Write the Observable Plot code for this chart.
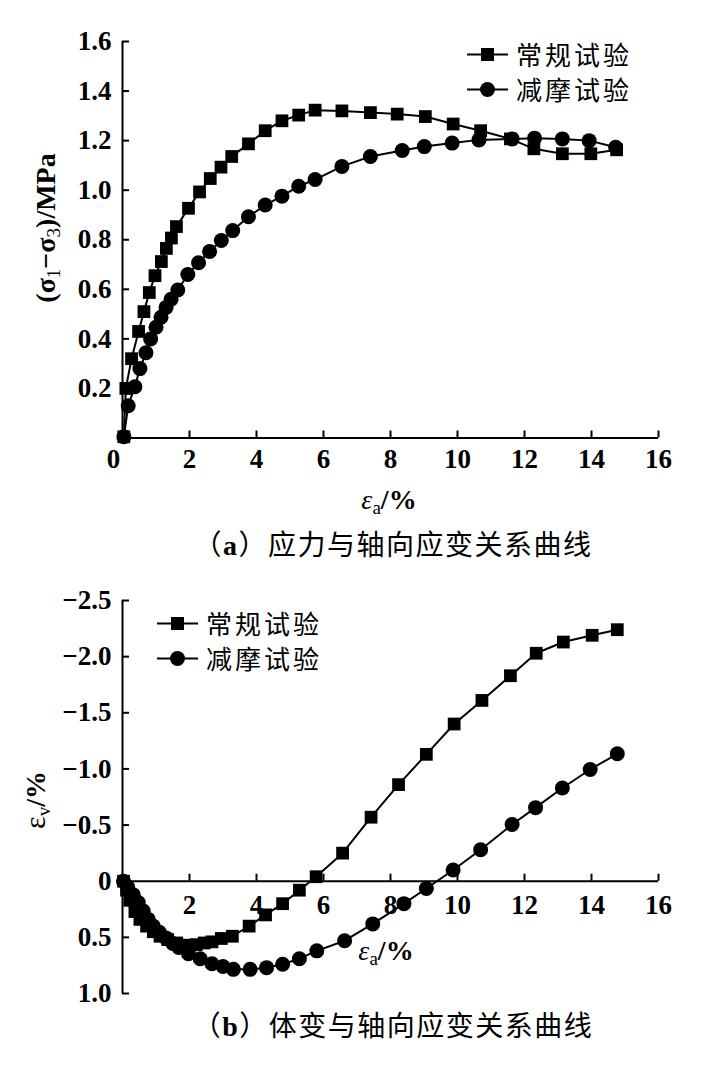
<!DOCTYPE html>
<html>
<head>
<meta charset="utf-8">
<script src="https://cdn.jsdelivr.net/npm/d3@7"></script>
<script src="https://cdn.jsdelivr.net/npm/@observablehq/plot@0.6"></script>
<style>
  body { margin: 0; background: #fff; }
  #wrap { position: relative; width: 721px; height: 1066px; overflow: hidden; background: #fff; color: #000;
          font-family: "Liberation Serif", serif; }
  .abs { position: absolute; white-space: nowrap; }
  .lab { font-family: "Liberation Serif", serif; font-weight: bold; font-size: 28px; line-height: 1; }
  .lab sub { font-size: 19px; vertical-align: -5px; font-weight: normal; }
  .cap { font-family: "Noto Sans CJK SC", sans-serif; font-size: 28px; line-height: 1; letter-spacing: 1.5px; }
  .cap b { font-family: "Liberation Serif", serif; font-weight: bold; }
  .leg { font-family: "Noto Sans CJK SC", sans-serif; font-size: 26px; line-height: 1; letter-spacing: 3px; display: flex; align-items: center; }
  .leg svg { margin-right: 8px; }
</style>
</head>
<body>
<div id="wrap">
  <div id="chartA" class="abs" style="left:0;top:0"></div>
  <div id="chartB" class="abs" style="left:0;top:560px"></div>
</div>
<script>
// ---------- data ----------
const seriesNames = ["常规试验", "减摩试验"];
const xTicks = [0, 2, 4, 6, 8, 10, 12, 14, 16];
const yTicksA = [0.2, 0.4, 0.6, 0.8, 1.0, 1.2, 1.4, 1.6];
const yTicksB = [-2.5, -2.0, -1.5, -1.0, -0.5, 0, 0.5, 1.0];
const yLabelsB = ["−2.5", "−2.0", "−1.5", "−1.0", "−0.5", "0", "0.5", "1.0"];

// (a) deviator stress vs axial strain
const epsA_conv = [0.04,0.1,0.27,0.48,0.64,0.8,0.97,1.16,1.31,1.46,1.61,1.97,2.3,2.62,2.94,3.26,3.76,4.26,4.76,5.26,5.75,6.55,7.4,8.2,9.04,9.87,10.69,11.58,12.28,13.13,13.98,14.75];
const q_conv    = [0.005,0.2,0.32,0.43,0.51,0.587,0.655,0.712,0.765,0.807,0.853,0.927,0.993,1.047,1.093,1.136,1.187,1.24,1.28,1.303,1.323,1.32,1.313,1.307,1.297,1.267,1.24,1.207,1.167,1.147,1.147,1.163];
const epsA_fric = [0.04,0.17,0.37,0.52,0.7,0.84,1.0,1.15,1.3,1.45,1.65,1.95,2.27,2.6,2.95,3.29,3.76,4.26,4.76,5.26,5.75,6.55,7.4,8.35,9.01,9.84,10.64,11.63,12.3,13.13,13.93,14.72];
const q_fric    = [0.005,0.13,0.207,0.28,0.344,0.4,0.447,0.487,0.527,0.56,0.597,0.66,0.707,0.753,0.797,0.837,0.893,0.94,0.976,1.016,1.043,1.096,1.136,1.16,1.176,1.19,1.203,1.207,1.21,1.207,1.2,1.173];

// (b) volumetric strain vs axial strain
const epsB_conv = [0.03,0.12,0.22,0.37,0.52,0.72,0.92,1.12,1.35,1.62,1.92,2.2,2.44,2.67,2.95,3.28,3.78,4.27,4.78,5.28,5.78,6.57,7.42,8.24,9.07,9.9,10.73,11.58,12.35,13.16,14.02,14.77];
const ev_conv   = [0,0.08,0.17,0.27,0.34,0.40,0.45,0.49,0.52,0.55,0.57,0.565,0.55,0.54,0.51,0.49,0.40,0.30,0.20,0.08,-0.04,-0.25,-0.57,-0.86,-1.13,-1.40,-1.61,-1.83,-2.03,-2.13,-2.19,-2.24];
const epsB_fric = [0.03,0.15,0.32,0.47,0.62,0.77,0.92,1.1,1.3,1.5,1.68,1.97,2.32,2.67,3.0,3.31,3.81,4.3,4.78,5.28,5.8,6.63,7.47,8.4,9.07,9.87,10.69,11.63,12.33,13.13,13.96,14.77];
const ev_fric   = [0,0.05,0.12,0.19,0.265,0.34,0.40,0.455,0.505,0.555,0.59,0.645,0.69,0.735,0.76,0.785,0.785,0.77,0.74,0.69,0.62,0.53,0.38,0.2,0.065,-0.10,-0.28,-0.505,-0.655,-0.83,-0.995,-1.135];

// ---------- build tables ----------
const rows = (xs, ys, s) => xs.map((x, i) => ({x, y: ys[i], s}));
const dataA = [...rows(epsA_conv, q_conv, seriesNames[0]), ...rows(epsA_fric, q_fric, seriesNames[1])];
const dataB = [...rows(epsB_conv, ev_conv, seriesNames[0]), ...rows(epsB_fric, ev_fric, seriesNames[1])];

const W = 721;
const FS = 27;
const common = {
  width: W, marginLeft: 122, marginRight: 63,
  style: {fontFamily: "'Liberation Serif', serif", fontSize: FS + "px", fontWeight: "bold", color: "#000", background: "transparent", overflow: "visible"}
};
const seriesMarks = (data) => [
  Plot.line(data, {x: "x", y: "y", z: "s", stroke: "#000", strokeWidth: 2}),
  Plot.dot(data.filter(d => d.s === seriesNames[0]), {x: "x", y: "y", symbol: "square", r: 7.2, fill: "#000", stroke: "none"}),
  Plot.dot(data.filter(d => d.s === seriesNames[1]), {x: "x", y: "y", symbol: "circle", r: 7.5, fill: "#000", stroke: "none"})
];

const plotA = Plot.plot({
  ...common,
  height: 525, marginTop: 41, marginBottom: 87.5,
  x: {domain: [0, 16]},
  y: {domain: [0, 1.6]},
  marks: [
    Plot.ruleX([0], {stroke: "#000", strokeWidth: 2}),
    Plot.ruleY([0], {stroke: "#000", strokeWidth: 2}),
    Plot.axisY(yTicksA, {tickSize: -7, tickPadding: 18, strokeWidth: 2, tickFormat: d => d.toFixed(1), label: null, fontSize: FS}),
    Plot.axisX(xTicks.slice(1), {tickSize: -7, tickPadding: 18, strokeWidth: 2, tickFormat: d => String(d), label: null, fontSize: FS}),
    Plot.axisX([0], {tickSize: 0, tickPadding: 11, dx: -9, tickFormat: d => String(d), label: null, fontSize: FS}),
    ...seriesMarks(dataA)
  ]
});

const plotB = Plot.plot({
  ...common,
  height: 460, marginTop: 40, marginBottom: 27,
  x: {domain: [0, 16], axis: null},
  y: {domain: [1.0, -2.5]},
  marks: [
    Plot.ruleX([0], {stroke: "#000", strokeWidth: 2}),
    Plot.ruleY([0], {stroke: "#000", strokeWidth: 2}),
    Plot.axisY(yTicksB, {tickSize: -7, tickPadding: 18, strokeWidth: 2, tickFormat: d => yLabelsB[yTicksB.indexOf(d)], label: null, fontSize: FS}),
    Plot.ruleX(xTicks.slice(1), {x: d => d, y1: 0, y2: -0.062, stroke: "#000", strokeWidth: 2}),
    Plot.text(xTicks.slice(1), {x: d => d, y: 0, dy: 24, text: d => String(d), fontSize: FS, fontWeight: "bold"}),
    ...seriesMarks(dataB)
  ]
});

document.getElementById("chartA").appendChild(plotA);
document.getElementById("chartB").appendChild(plotB);

// ---------- text overlays (labels, captions, legends) ----------
const wrap = document.getElementById("wrap");
function addDiv(cls, html, left, top, rotate) {
  const d = document.createElement("div");
  d.className = "abs " + cls;
  d.style.left = left + "px";
  d.style.top = top + "px";
  d.style.transform = "translate(-50%,-50%)" + (rotate ? " rotate(-90deg)" : "");
  d.innerHTML = html;
  wrap.appendChild(d);
  return d;
}
addDiv("lab", "(σ<sub>1</sub>−σ<sub>3</sub>)/MPa", 47, 228, true);
addDiv("lab", "<i style='font-weight:normal'>ε</i><sub>a</sub>/%", 389, 501, false);
addDiv("cap", "（<b>a</b>）应力与轴向应变关系曲线", 393, 544, false);
addDiv("lab", "<span style='font-weight:normal;font-size:30px'>ε</span><sub>v</sub>/%", 36, 800, true);
addDiv("lab", "<i style='font-weight:normal'>ε</i><sub>a</sub>/%", 386, 952, false);
addDiv("cap", "（<b>b</b>）体变与轴向应变关系曲线", 393, 1025, false);

function legend(left, top, gap) {
  const box = document.createElement("div");
  box.className = "abs";
  box.style.left = left + "px";
  box.style.top = top + "px";
  seriesNames.forEach((name, i) => {
    const row = document.createElement("div");
    row.className = "leg";
    row.style.height = gap + "px";
    const marker = i === 0
      ? `<rect x="14" y="4" width="13" height="13" fill="#000"/>`
      : `<circle cx="20.5" cy="10.5" r="7.5" fill="#000"/>`;
    row.innerHTML = `<svg width="41" height="21" viewBox="0 0 41 21"><line x1="0" y1="10.5" x2="41" y2="10.5" stroke="#000" stroke-width="2"/>${marker}</svg><span>${name}</span>`;
    box.appendChild(row);
  });
  wrap.appendChild(box);
}
legend(467, 54 - 17.5, 35);
legend(157, 623 - 17.5, 35);
</script>
</body>
</html>
